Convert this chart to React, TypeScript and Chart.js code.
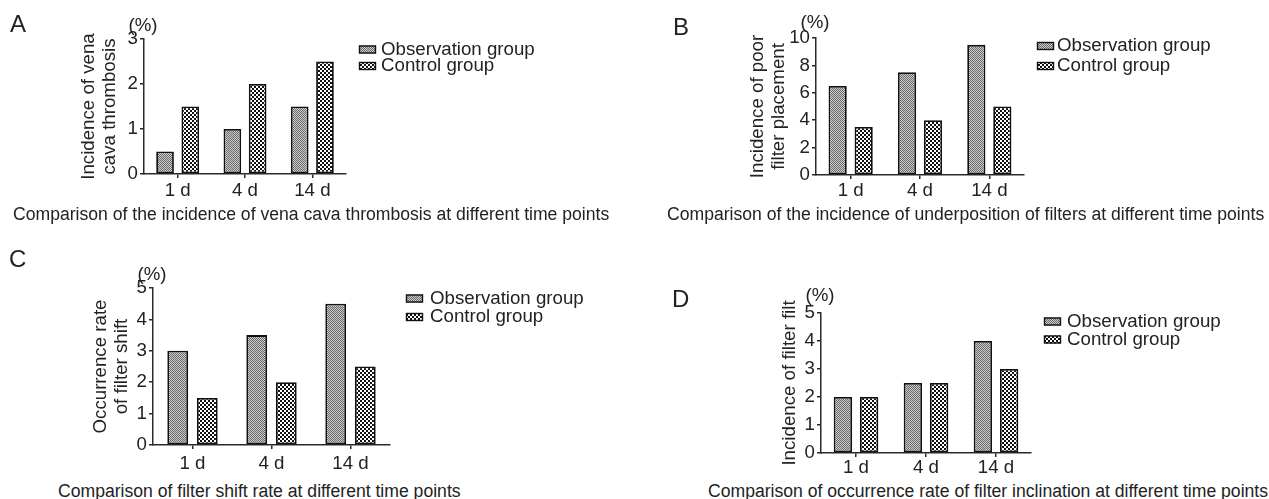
import React, { useEffect, useRef } from 'react';
import { Chart, registerables } from 'chart.js';

Chart.register(...registerables);

const FONT = '"Liberation Sans", Arial, Helvetica, sans-serif';

// ---------- data ----------
const categories = ['1 d', '4 d', '14 d'];
const seriesNames = ['Observation group', 'Control group'];

const observationA = [0.5, 1, 1.5];
const controlA = [1.5, 2, 2.5];
const yTitleA = ['Incidence of vena', 'cava thrombosis'];
const captionA = 'Comparison of the incidence of vena cava thrombosis at different time points';

const observationB = [6.5, 7.5, 9.5];
const controlB = [3.5, 4, 5];
const yTitleB = ['Incidence of poor', 'filter placement'];
const captionB = 'Comparison of the incidence of underposition of filters at different time points';

const observationC = [3, 3.5, 4.5];
const controlC = [1.5, 2, 2.5];
const yTitleC = ['Occurrence rate', 'of filter shift'];
const captionC = 'Comparison of filter shift rate at different time points';

const observationD = [2, 2.5, 4];
const controlD = [2, 2.5, 3];
const yTitleD = ['Incidence of filter filt'];
const captionD = 'Comparison of occurrence rate of filter inclination at different time points';

const yMaxes = [3, 10, 5, 5];
const ySteps = [1, 2, 1, 1];
const unitLabel = '(%)';
const panelLetters = ['A', 'B', 'C', 'D'];

// ---------- layout ----------
type Layout = {
  canvas: { x: number; y: number; w: number; h: number };
  area: { l: number; t: number; r: number; b: number };
  titleX: number;
  tickPadX: number;
  legend: { boxX: number; textX: number; rows: number[] };
  pctY: number;
  letter: { x: number; base: number };
  caption: { x: number; base: number };
};

const layouts: Layout[] = [
  {
    canvas: { x: 0, y: 0, w: 630, h: 205 },
    area: { l: 144, t: 39, r: 346, b: 174 },
    titleX: 89,
    tickPadX: 1.5,
    legend: { boxX: 359, textX: 381, rows: [49.5, 66] },
    pctY: 26,
    letter: { x: 10, base: 32 },
    caption: { x: 13, base: 220 },
  },
  {
    canvas: { x: 630, y: 0, w: 639, h: 205 },
    area: { l: 816, t: 38, r: 1024, b: 175 },
    titleX: 758,
    tickPadX: 0.5,
    legend: { boxX: 1037, textX: 1057, rows: [46, 66] },
    pctY: 22.5,
    letter: { x: 673, base: 35 },
    caption: { x: 667, base: 220 },
  },
  {
    canvas: { x: 0, y: 240, w: 630, h: 240 },
    area: { l: 153, t: 288, r: 390, b: 445 },
    titleX: 101,
    tickPadX: 3.5,
    legend: { boxX: 406, textX: 430, rows: [298.5, 317] },
    pctY: 274.5,
    letter: { x: 9, base: 267 },
    caption: { x: 58, base: 497 },
  },
  {
    canvas: { x: 630, y: 270, w: 639, h: 210 },
    area: { l: 821, t: 313, r: 1031, b: 453 },
    titleX: 790,
    tickPadX: 0,
    legend: { boxX: 1044, textX: 1067, rows: [321.5, 339.5] },
    pctY: 295.5,
    letter: { x: 672, base: 307 },
    caption: { x: 708, base: 497 },
  },
];

const panelData = [
  { obs: observationA, ctrl: controlA, title: yTitleA, caption: captionA },
  { obs: observationB, ctrl: controlB, title: yTitleB, caption: captionB },
  { obs: observationC, ctrl: controlC, title: yTitleC, caption: captionC },
  { obs: observationD, ctrl: controlD, title: yTitleD, caption: captionD },
];

const FS = 18.7;
const CAP_FS = 17.6;
const TITLE_LH = 21;
const AXIS = '#2a2a2a';
const TEXT = '#222';

function makePatterns(ctx: CanvasRenderingContext2D) {
  const a = document.createElement('canvas');
  a.width = 2;
  a.height = 2;
  const ac = a.getContext('2d')!;
  ac.fillStyle = '#cccccc';
  ac.fillRect(0, 0, 2, 2);
  ac.fillStyle = '#6a6a6a';
  ac.fillRect(0, 0, 1, 1);
  ac.fillRect(1, 1, 1, 1);
  const b = document.createElement('canvas');
  b.width = 4;
  b.height = 4;
  const bc = b.getContext('2d')!;
  bc.fillStyle = '#ffffff';
  bc.fillRect(0, 0, 4, 4);
  bc.fillStyle = '#111111';
  bc.fillRect(0, 0, 2, 2);
  bc.fillRect(2, 2, 2, 2);
  return [ctx.createPattern(a, 'repeat')!, ctx.createPattern(b, 'repeat')!];
}

function Panel({ idx }: { idx: number }) {
  const ref = useRef<HTMLCanvasElement>(null);
  const L = layouts[idx];
  const D = panelData[idx];
  useEffect(() => {
    const canvas = ref.current!;
    const ctx = canvas.getContext('2d')!;
    const [patObs, patCtrl] = makePatterns(ctx);
    const cx = L.canvas.x;
    const cy = L.canvas.y;

    const decor = {
      id: 'decor',
      afterDraw(chart: any) {
        const c = chart.ctx as CanvasRenderingContext2D;
        c.save();
        c.font = `${FS}px ${FONT}`;
        c.fillStyle = TEXT;
        c.textBaseline = 'middle';
        c.textAlign = 'center';
        c.fillText(unitLabel, chart.chartArea.left - 1, L.pctY - cy);
        c.textAlign = 'left';
        const pats = [patObs, patCtrl];
        seriesNames.forEach((name, i) => {
          const ry = L.legend.rows[i] - cy;
          const bx = L.legend.boxX - cx;
          c.fillStyle = pats[i];
          c.fillRect(bx, ry - 4, 17, 8);
          c.strokeStyle = '#111';
          c.lineWidth = 1.4;
          c.strokeRect(bx + 0.5, ry - 3.5, 16, 7);
          c.fillStyle = TEXT;
          c.fillText(name, L.legend.textX - cx, ry);
        });
        c.restore();
      },
    };

    const tickFont = { family: FONT, size: FS };
    const gridOpts = {
      display: true,
      drawOnChartArea: false,
      drawTicks: true,
      tickLength: 4,
      color: AXIS,
      lineWidth: 1.5,
    };

    const chart = new Chart(canvas, {
      type: 'bar',
      data: {
        labels: categories,
        datasets: [
          {
            label: seriesNames[0],
            data: D.obs,
            backgroundColor: patObs as any,
            borderColor: '#111',
            borderWidth: 1.8,
            borderSkipped: false,
            categoryPercentage: 0.75,
            barPercentage: 0.7,
          },
          {
            label: seriesNames[1],
            data: D.ctrl,
            backgroundColor: patCtrl as any,
            borderColor: '#111',
            borderWidth: 1.8,
            borderSkipped: false,
            categoryPercentage: 0.75,
            barPercentage: 0.7,
          },
        ],
      },
      options: {
        responsive: false,
        animation: false,
        devicePixelRatio: 1,
        layout: {
          padding: {
            left: 0,
            top: L.area.t - cy,
            right: cx + L.canvas.w - L.area.r,
            bottom: 0,
          },
        },
        plugins: { legend: { display: false }, tooltip: { enabled: false } },
        scales: {
          x: {
            grid: { ...gridOpts, offset: false },
            border: { display: true, color: AXIS, width: 1.5 },
            ticks: { font: tickFont, color: TEXT, padding: L.tickPadX, maxRotation: 0 },
            afterFit: (s: any) => {
              s.height = cy + L.canvas.h - L.area.b;
            },
          },
          y: {
            min: 0,
            max: yMaxes[idx],
            ticks: { stepSize: ySteps[idx], font: tickFont, color: TEXT, padding: 2 },
            grid: gridOpts,
            border: { display: true, color: AXIS, width: 1.5 },
            title: {
              display: true,
              text: D.title,
              font: { family: FONT, size: FS, lineHeight: TITLE_LH / FS },
              color: TEXT,
              padding: { top: L.titleX - cx - TITLE_LH / 2, bottom: 0 },
            },
            afterFit: (s: any) => {
              s.width = L.area.l - cx;
            },
          },
        },
      },
      plugins: [decor],
    } as any);
    return () => chart.destroy();
  }, []);
  return (
    <canvas
      ref={ref}
      width={L.canvas.w}
      height={L.canvas.h}
      style={{ position: 'absolute', left: L.canvas.x, top: L.canvas.y, width: L.canvas.w, height: L.canvas.h }}
    />
  );
}

function baselineTop(base: number, fs: number, lh: number) {
  return base - ((lh - 1.117 * fs) / 2 + 0.905 * fs);
}

export default function App() {
  return (
    <div
      style={{
        position: 'absolute',
        left: 0,
        top: 0,
        width: 1269,
        height: 499,
        background: '#fff',
        overflow: 'hidden',
        fontFamily: FONT,
        color: TEXT,
      }}
    >
      {layouts.map((L, i) => (
        <React.Fragment key={i}>
          <Panel idx={i} />
          <div
            style={{
              position: 'absolute',
              left: L.letter.x,
              top: baselineTop(L.letter.base, 24, 24),
              fontSize: 24,
              lineHeight: '24px',
              whiteSpace: 'nowrap',
            }}
          >
            {panelLetters[i]}
          </div>
          <div
            style={{
              position: 'absolute',
              left: L.caption.x,
              top: baselineTop(L.caption.base, CAP_FS, 20),
              fontSize: CAP_FS,
              lineHeight: '20px',
              whiteSpace: 'nowrap',
            }}
          >
            {panelData[i].caption}
          </div>
        </React.Fragment>
      ))}
    </div>
  );
}
